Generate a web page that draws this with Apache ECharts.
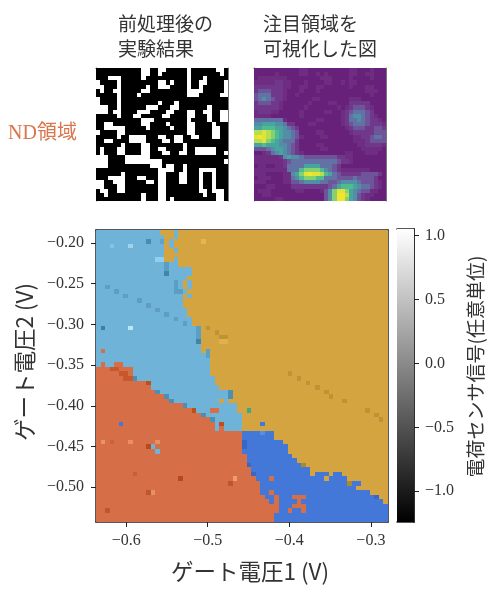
<!DOCTYPE html>
<html><head><meta charset="utf-8">
<style>html,body{margin:0;padding:0;background:#fff}#c{width:500px;height:589px;filter:blur(0.4px)}</style>
<script src="https://cdn.jsdelivr.net/npm/echarts@6/dist/echarts.min.js"></script>
</head><body><div id="c"></div>
<script>
// ---- main stability map: class runs per row, top to bottom ("class + end column")
var mapRows = [
"L14 Y17 L18 Y64","L15 Y17 L18 Y64","L15 Y16 L17 Y64","L15 Y16 L17 Y64","L15 Y17 L18 Y64","L15 Y64","L15 Y17 L18 Y64","L18 Y64",
"L21 Y64","L21 Y64","L20 Y64","L19 Y20 L21 Y64","L19 Y20 L21 Y64","L20 Y64","L19 Y20 L21 Y64","L19 Y64",
"L19 Y64","L20 Y64","L20 Y64","L21 Y64","L21 Y64","L23 Y64","L23 Y64","L23 Y64",
"L23 Y64","L23 Y64","L1 R2 L23 Y24 L25 Y64","L25 Y64","L25 Y64","L1 R2 L4 R6 L25 Y64","R8 L25 Y64","R8 L25 Y64",
"R9 L26 Y64","R12 L26 Y64","R12 L27 Y64","R13 L29 Y64","R15 L30 Y64","R17 L27 Y28 L29 Y64","R19 L31 Y64","R22 L31 Y64",
"R23 L32 Y64","R25 L32 Y64","R26 L27 R28 L32 Y64","R26 L27 R28 L32 Y64","R32 B39 Y64","R32 B39 Y64","R32 B41 Y64","R32 B42 Y64",
"R32 B42 Y64","R33 B43 Y64","R33 B44 Y64","R34 B46 Y64","R34 B47 Y64","R35 B47 Y48 B51 Y52 B54 Y64","R35 B55 Y64","R36 B55 Y56 B58 Y64",
"R36 B57 Y64","R36 B60 Y64","R37 B39 R40 B62 Y64","R38 B39 R40 B63 Y64","R40 B64","R40 B64","R39 B64","R39 B64"
];
var classColors = {L:"#6fb3d8",Y:"#d3a440",R:"#d66f47",B:"#4478d8"};
// single cells that differ from their region: [column, row, colour]
var oddCells = [
[11,2,"#4a8cb0"],[14,2,"#5ea3c8"],[23,2,"#e8b44e"],[7,3,"#9fd3ea"],[3,3,"#85c3e0"],[13,6,"#92cfee"],[14,6,"#92cfee"],
[15,9,"#3f86a8"],[15,7,"#5a9fc2"],[15,8,"#5a9fc2"],[17,11,"#5a9fc2"],[17,12,"#5a9fc2"],[17,13,"#5a9fc2"],[18,13,"#5a9fc2"],
[1,21,"#3f7fa5"],[7,21,"#b8e6f5"],[22,21,"#5aa0c5"],[22,22,"#5aa0c5"],[22,23,"#5aa0c5"],[22,24,"#3f85a8"],[24,26,"#5aa0c5"],[24,27,"#5aa0c5"],
[3,30,"#c8582c"],[4,30,"#c8582c"],[5,31,"#c8582c"],[6,31,"#c8582c"],[6,32,"#c8582c"],[7,32,"#c8582c"],
[5,42,"#4478d8"],[1,46,"#e89468"],[3,46,"#c9633a"],[7,46,"#e8905f"],[13,46,"#e8905f"],[11,47,"#b84a1c"],[12,47,"#6eb4d9"],[13,48,"#6eb4d9"],
[18,54,"#b44a1c"],[30,54,"#f09a70"],[29,55,"#c0572c"],[12,57,"#e8905f"],[11,57,"#c0572c"],[8,53,"#c4603a"],[2,61,"#c0572c"],
[8,32,"#4a90b5"],[11,33,"#b8501f"],[13,35,"#4a90b5"],[15,36,"#4a90b5"],[16,37,"#4a90b5"],[19,38,"#4a90b5"],[21,39,"#b8501f"],[25,39,"#d66f47"],[26,39,"#d66f47"],
[23,40,"#4a90b5"],[25,41,"#4a90b5"],[27,42,"#b8501f"],[29,35,"#4a90b5"],[29,36,"#4a90b5"],
[33,39,"#3aa88a"],[36,42,"#4478d8"],[36,44,"#5a8ee0"],[32,46,"#3a66c4"],[32,47,"#3a66c4"],[33,51,"#3a66c4"],[34,53,"#3a66c4"],[61,58,"#3a66c4"],
[38,54,"#d66f47"],[38,57,"#d66f47"],[50,54,"#d3a440"],[43,58,"#d66f47"],[44,58,"#d66f47"],[45,58,"#d66f47"],[44,59,"#d66f47"],
[43,60,"#d66f47"],[44,60,"#d66f47"],[45,60,"#d66f47"],[42,61,"#d66f47"],[45,61,"#d66f47"],
[2,12,"#5f9ec2"],[4,13,"#5f9ec2"],[6,14,"#5f9ec2"],[9,15,"#5f9ec2"],[11,16,"#5f9ec2"],[13,17,"#5f9ec2"],[15,18,"#5f9ec2"],[17,19,"#5f9ec2"],[19,20,"#5f9ec2"],
[24,21,"#bf9236"],[26,22,"#bf9236"],[27,23,"#bf9236"],[28,23,"#bf9236"],[42,31,"#c09338"],[44,32,"#bf9236"],[46,33,"#bf9236"],[48,34,"#bf9236"],[50,35,"#bf9236"],
[51,36,"#bf9236"],[54,37,"#bf9236"],[59,39,"#bf9236"],[61,40,"#bf9236"],[62,41,"#bf9236"],[27,24,"#e0b04c"],[28,24,"#e0b04c"],[55,55,"#a88a30"],[45,51,"#a88a30"]
];
// ---- axes
var gate1Range = [-0.637, -0.279];
var gate2Range = [-0.5427, -0.184];
var gate1Ticks = [-0.6,-0.5,-0.4,-0.3];
var gate2Ticks = [-0.5,-0.45,-0.4,-0.35,-0.3,-0.25,-0.2];
var barRange = [-1.24, 1.05];
var barTicks = [-1,-0.5,0,0.5,1];
// ---- binary input image
var binaryRows = [
"...........##..##.....#......##.",
"...........##..#......#.......#.",
"...###.....#..........#...#.....",
"#....#.........##.#...#..##....#",
"##...#......#..###....#..#.....#",
".#..##.....##.........####.....#",
".....#....#...........###.....##",
"#....#..........................",
"#....#.........#...#............",
"###..#......###...##.......#....",
"###.##....###....##...##..##..##",
".....#...##.....##....##...#..##",
"...........###........#....#..##",
"..##.......##....#....##....#...",
"..#####.....#.....#...##....##..",
"#....##...............##....##..",
".....#..####...##..##..##...##..",
"..##....####....##.##...........",
"......#....##........#..........",
".#...##....##..##....#..#####...",
".#...##....##...##..##..#####..#",
"###....######...................",
"###....#########...............#",
"###..........###.##..#..........",
"...............####..#...####...",
"......#........##...##...#..#...",
"...####...##...##...##...#..#...",
"##..###.....##.##...##...#..#...",
"##...##........##........#..#...",
".##..##........##........##.###.",
"..#........#...##.........#..##.",
"...........#...##.#..........##."
];
// ---- attention map, one hex digit per cell
var attentionRows = [
"00000000000110000000000110001000",
"00000100000110010100000110011000",
"01111111000000001110000100001000",
"11111221100010000110010110000000",
"22222221100110011000000100011000",
"23332221000100010000000000011100",
"34442221001000000000000000001000",
"34543221000000110000000111000000",
"23332210000001000011000222220000",
"22222210000010000000101233321000",
"12221100000100000110012344432000",
"11110000000100000000012455432100",
"44444441000000011000012445432210",
"55666554220001100000012344432221",
"66777665432000000000001233322332",
"99a98765543000011000000122222333",
"aba98765543100001100000011223443",
"99a87654442000000000000011123333",
"66766655432000011000000001122221",
"33345665432000001100000000111110",
"00124565432100000000001100011100",
"11111125655433333333221100000000",
"11111112344444444444322100000000",
"01100112444466664443200000000000",
"11111111444788887543211111110000",
"111000011568abaa9764322222333320",
"01110001145788877444333343333200",
"11100001133455554433455554333210",
"00011000022222222234677765443210",
"01110000001100001358aa8654331100",
"00110000000000000358bb9653211000",
"00000110000000000358bb8653210000"
];
var attentionColors = ["#67217a","#6e2d80","#70388a","#6e559a","#6272a4","#528fa6","#47a5a0","#50bb90","#85d16f","#b8dd4f","#e0e43a","#f5e52a"];
var labelColor = "#333", frameColor = "#222", cjk = '"Noto Sans CJK JP","Noto Sans",sans-serif', serif = '"Liberation Serif","Times New Roman",serif';

function mapCells(){
  var cols = [], out = [], dx=(gate1Range[1]-gate1Range[0])/64, dy=(gate2Range[1]-gate2Range[0])/64, g={};
  mapRows.forEach(function(s,r){ var c=0; s.split(" ").forEach(function(t){ var e=+t.slice(1); for(;c<e;c++) g[r+"_"+c]=classColors[t[0]]; }); });
  oddCells.forEach(function(o){ g[o[1]+"_"+o[0]]=o[2]; });
  for(var r=0;r<64;r++) for(var c=0;c<64;c++){
    out.push([gate1Range[0]+c*dx, gate2Range[1]-r*dy, gate1Range[0]+(c+1)*dx, gate2Range[1]-(r+1)*dy]);
    cols.push(g[r+"_"+c]);
  }
  return {data:out,colors:cols};
}
function imgCells(rows,colorOf){
  var out=[],cols=[];
  rows.forEach(function(s,r){ for(var c=0;c<32;c++){ out.push([c,r,c+1,r+1]); cols.push(colorOf(s[c]||"0")); } });
  return {data:out,colors:cols};
}
function rectSeries(g,cells){
  return {type:"custom",xAxisIndex:g*2,yAxisIndex:g*2,data:cells.data,progressive:0,animation:false,silent:true,
    encode:{x:[0,2],y:[1,3]},
    renderItem:function(p,api){
      var a=api.coord([api.value(0),api.value(1)]), b=api.coord([api.value(2),api.value(3)]);
      var x0=Math.round(Math.min(a[0],b[0])),x1=Math.round(Math.max(a[0],b[0])),y0=Math.round(Math.min(a[1],b[1])),y1=Math.round(Math.max(a[1],b[1]));
      return {type:"rect",shape:{x:x0,y:y0,width:x1-x0,height:y1-y0},style:{fill:cells.colors[p.dataIndex]}};
    }};
}
function fmt(d){return function(v){return v.toFixed(d).replace("-","\u2212");};}
function frameAxes(g,color,w,xr,yr,inv){
  var line={show:true,onZero:false,lineStyle:{color:color,width:w}};
  return {
   x:{type:"value",gridIndex:g,min:xr[0],max:xr[1],position:"top",axisLine:line,axisTick:{show:false},axisLabel:{show:false},splitLine:{show:false}},
   y:{type:"value",gridIndex:g,min:yr[0],max:yr[1],inverse:!!inv,position:"right",axisLine:line,axisTick:{show:false},axisLabel:{show:false},splitLine:{show:false}}
  };
}
var tick={show:true,length:5,lineStyle:{color:frameColor,width:1}};
var line={show:true,onZero:false,lineStyle:{color:frameColor,width:1.5}};
var labelBase={color:labelColor,fontFamily:serif,fontSize:16};
var xAxes=[],yAxes=[];
function addGrid(x,y,xf,yf){xAxes.push(x,xf);yAxes.push(y,yf);}
// main
var f0=frameAxes(0,frameColor,1.5,gate1Range,gate2Range);
addGrid(
 {type:"value",gridIndex:0,min:gate1Range[0],max:gate1Range[1],position:"bottom",axisLine:line,
  axisTick:Object.assign({customValues:gate1Ticks},tick),splitLine:{show:false},
  axisLabel:Object.assign({customValues:gate1Ticks,formatter:fmt(1),margin:11},labelBase),
  name:"\u30b2\u30fc\u30c8\u96fb\u57271 (V)",nameLocation:"middle",nameGap:38,
  nameTextStyle:{color:labelColor,fontFamily:cjk,fontSize:22.5,padding:[0,0,0,16]}},
 {type:"value",gridIndex:0,min:gate2Range[0],max:gate2Range[1],position:"left",axisLine:line,
  axisTick:Object.assign({customValues:gate2Ticks},tick),splitLine:{show:false},
  axisLabel:Object.assign({customValues:gate2Ticks,formatter:fmt(2),margin:12},labelBase),
  name:"\u30b2\u30fc\u30c8\u96fb\u57272 (V)",nameLocation:"middle",nameGap:59,
  nameTextStyle:{color:labelColor,fontFamily:cjk,fontSize:22.5,padding:[0,0,0,28]}},
 f0.x,f0.y);
// small images
[1,2].forEach(function(g){
  var f=frameAxes(g,"#777",1,[0,32],[0,32],true);
  addGrid({type:"value",gridIndex:g,min:0,max:32,position:"bottom",axisLine:{show:true,lineStyle:{color:"#777",width:1}},axisTick:{show:false},axisLabel:{show:false},splitLine:{show:false}},
          {type:"value",gridIndex:g,min:0,max:32,inverse:true,position:"left",axisLine:{show:true,lineStyle:{color:"#777",width:1}},axisTick:{show:false},axisLabel:{show:false},splitLine:{show:false}},
          f.x,f.y);
});
// colour bar
var f3=frameAxes(3,frameColor,1.5,[0,1],barRange);
addGrid({type:"value",gridIndex:3,min:0,max:1,position:"bottom",axisLine:line,axisTick:{show:false},axisLabel:{show:false},splitLine:{show:false}},
 {type:"value",gridIndex:3,min:barRange[0],max:barRange[1],position:"right",axisLine:line,
  axisTick:Object.assign({customValues:barTicks},tick),splitLine:{show:false},
  axisLabel:Object.assign({customValues:barTicks,formatter:fmt(1),margin:11,align:"left"},labelBase),
  name:"\u96fb\u8377\u30bb\u30f3\u30b5\u4fe1\u53f7(\u4efb\u610f\u5358\u4f4d)",nameLocation:"middle",nameRotate:90,nameGap:52,
  nameTextStyle:{color:labelColor,fontFamily:cjk,fontSize:19,padding:[0,0,0,18]}},
 f3.x,f3.y);
var barSeries={type:"custom",xAxisIndex:6,yAxisIndex:6,data:[[0,barRange[0],1,barRange[1]]],animation:false,silent:true,encode:{x:[0,2],y:[1,3]},
  renderItem:function(p,api){
    var a=api.coord([api.value(0),api.value(3)]), b=api.coord([api.value(2),api.value(1)]);
    return {type:"rect",shape:{x:a[0],y:a[1],width:b[0]-a[0],height:b[1]-a[1]},
      style:{fill:new echarts.graphic.LinearGradient(0,0,0,1,[{offset:0,color:"#fff"},{offset:1,color:"#000"}])}};
  }};
var chart=echarts.init(document.getElementById("c"),null,{renderer:"canvas"});
function topText(x,y,t){return {type:"text",left:x,top:y,style:{text:t,fill:labelColor,font:"19px "+cjk,lineHeight:25}};}
var noBounds={outerBoundsMode:"none",containLabel:false};
chart.setOption({
  animation:false,backgroundColor:"#fff",
  grid:[Object.assign({left:96,top:230,width:292,height:292},noBounds),Object.assign({left:96,top:68,width:132,height:133},noBounds),Object.assign({left:254,top:68,width:132,height:133},noBounds),Object.assign({left:397,top:229,width:17,height:293},noBounds)],
  xAxis:xAxes,yAxis:yAxes,
  series:[
    rectSeries(0,mapCells()),
    rectSeries(1,imgCells(binaryRows,function(ch){return ch==="#"?"#fff":"#000";})),
    rectSeries(2,imgCells(attentionRows,function(ch){return attentionColors[parseInt(ch,16)];})),
    barSeries
  ],
  graphic:[
    topText(118,11,"\u524d\u51e6\u7406\u5f8c\u306e\n\u5b9f\u9a13\u7d50\u679c"),
    topText(263,11,"\u6ce8\u76ee\u9818\u57df\u3092\n\u53ef\u8996\u5316\u3057\u305f\u56f3"),
    {type:"text",left:8,top:124,style:{text:"ND\u9818\u57df",fill:"#d9764c",font:"20px "+serif+',"Noto Sans CJK JP"'}}
  ]
});
</script></body></html>
